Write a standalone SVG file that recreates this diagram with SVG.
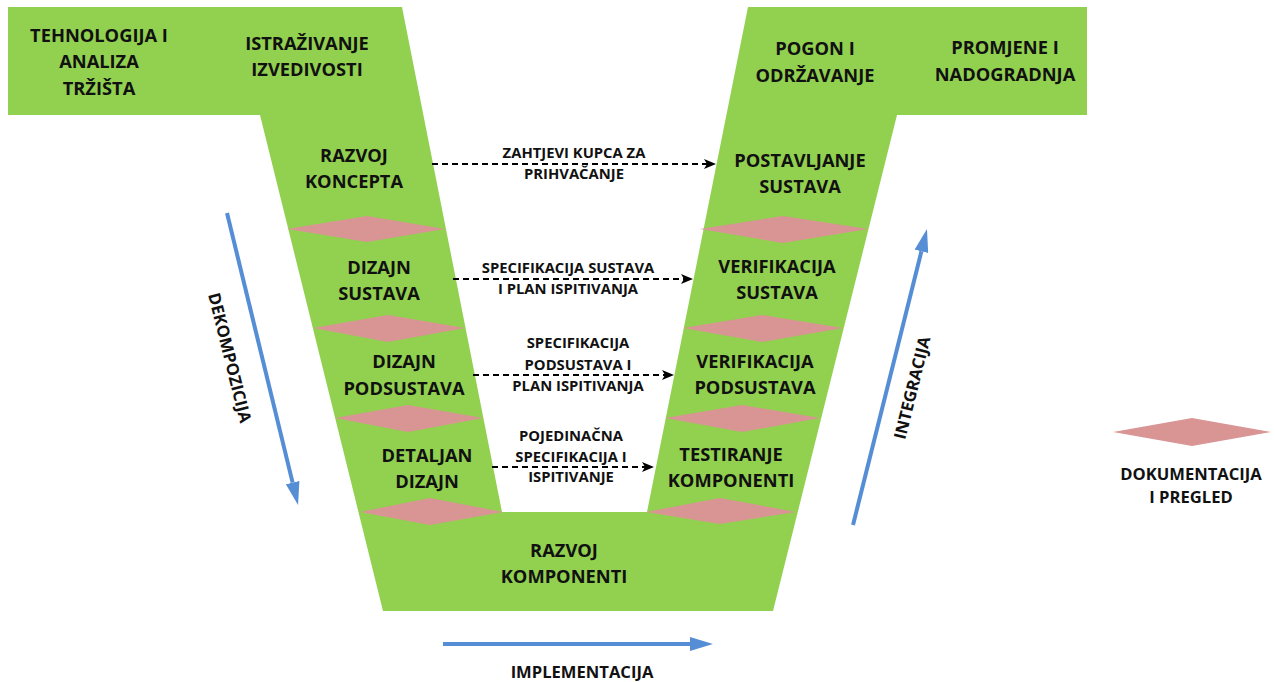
<svg xmlns="http://www.w3.org/2000/svg" width="1275" height="682" viewBox="0 0 1275 682">
<style>
.t{font-family:"Open Sans","Liberation Sans",sans-serif;font-weight:bold;font-size:18.3px;fill:#111;text-anchor:middle}
.s{font-family:"Open Sans","Liberation Sans",sans-serif;font-weight:bold;font-size:14.8px;fill:#111;text-anchor:middle}
.m{font-family:"Open Sans","Liberation Sans",sans-serif;font-weight:bold;font-size:16.6px;fill:#111;text-anchor:middle}
.d{fill:#D99594}
.dash{stroke:#000;stroke-width:2;stroke-dasharray:6 4;fill:none}
.blue{stroke:#558ED5;stroke-width:4;fill:none}
</style>
<defs>
<marker id="ah" markerUnits="userSpaceOnUse" markerWidth="12" markerHeight="12" viewBox="0 0 12 12" refX="9" refY="6" orient="auto">
<path d="M0,1 L12,6 L0,11 L3,6 Z" fill="#000"/>
</marker>
<marker id="bh" markerUnits="userSpaceOnUse" markerWidth="23" markerHeight="14" viewBox="0 0 23 14" refX="0" refY="7" orient="auto">
<path d="M0,0 L23,7 L0,14 Z" fill="#558ED5"/>
</marker>
</defs>
<g id="vshape">
<path d="M8,7 L402,7 L502,512 L647,512 L748,7 L1087,7 L1087,115 L897,115 L773,611 L383,611 L260,115 L8,115 Z" fill="#92D050"/>
</g>
<g id="diamonds">
<polygon class="d" points="287,229 367,216 445,229 367,242"/>
<polygon class="d" points="313,328 388,315 465,328 388,342"/>
<polygon class="d" points="335,418 408,405 483,418 408,432"/>
<polygon class="d" points="360,512 430,498 503,512 430,525"/>
<polygon class="d" points="700,229 783,216 868,229 783,243"/>
<polygon class="d" points="683,328 762,315 843,328 762,342"/>
<polygon class="d" points="665,418 742,405 820,418 742,432"/>
<polygon class="d" points="646,512 720,498 796,512 720,524"/>
</g>
<g id="n-tehnologija"><text class="t" x="99" y="42">TEHNOLOGIJA I</text><text class="t" x="99" y="68">ANALIZA</text><text class="t" x="99" y="95">TRŽIŠTA</text></g>
<g id="n-istrazivanje"><text class="t" x="307" y="50">ISTRAŽIVANJE</text><text class="t" x="307" y="76">IZVEDIVOSTI</text></g>
<g id="n-pogon"><text class="t" x="815" y="55">POGON I</text><text class="t" x="815" y="82">ODRŽAVANJE</text></g>
<g id="n-promjene"><text class="t" x="1005" y="54">PROMJENE I</text><text class="t" x="1005" y="81">NADOGRADNJA</text></g>
<g id="n-razvoj-koncepta"><text class="t" x="354" y="162">RAZVOJ</text><text class="t" x="354" y="188">KONCEPTA</text></g>
<g id="n-postavljanje"><text class="t" x="800" y="167">POSTAVLJANJE</text><text class="t" x="800" y="193">SUSTAVA</text></g>
<g id="n-dizajn-sustava"><text class="t" x="379" y="274">DIZAJN</text><text class="t" x="379" y="300">SUSTAVA</text></g>
<g id="n-verifikacija-sustava"><text class="t" x="777" y="273">VERIFIKACIJA</text><text class="t" x="777" y="299">SUSTAVA</text></g>
<g id="n-dizajn-podsustava"><text class="t" x="404" y="368">DIZAJN</text><text class="t" x="404" y="395">PODSUSTAVA</text></g>
<g id="n-verifikacija-podsustava"><text class="t" x="755" y="368">VERIFIKACIJA</text><text class="t" x="755" y="394">PODSUSTAVA</text></g>
<g id="n-detaljan"><text class="t" x="427" y="462">DETALJAN</text><text class="t" x="427" y="488">DIZAJN</text></g>
<g id="n-testiranje"><text class="t" x="731" y="461">TESTIRANJE</text><text class="t" x="731" y="487">KOMPONENTI</text></g>
<g id="n-razvoj-komponenti"><text class="t" x="564" y="557">RAZVOJ</text><text class="t" x="564" y="583">KOMPONENTI</text></g>
<g id="legend">
<polygon class="d" points="1113,432 1192,418 1271,432 1192,446"/>
<text class="m" x="1191" y="480">DOKUMENTACIJA</text><text class="m" x="1191" y="503">I PREGLED</text>
</g>
<g id="connectors">
<line class="dash" x1="432" y1="164" x2="713" y2="164" marker-end="url(#ah)"/>
<line class="dash" x1="453" y1="279" x2="690" y2="279" marker-end="url(#ah)"/>
<line class="dash" x1="473" y1="375" x2="671" y2="375" marker-end="url(#ah)"/>
<line class="dash" x1="492" y1="467" x2="651" y2="467" marker-end="url(#ah)"/>
<line class="blue" x1="443" y1="644" x2="690" y2="644" marker-end="url(#bh)"/>
<line class="blue" x1="227" y1="213" x2="292.6" y2="482.6" marker-end="url(#bh)"/>
<line class="blue" x1="853" y1="525" x2="921.4" y2="251.3" marker-end="url(#bh)"/>
</g>
<g id="connector-labels">
<text class="s" x="574" y="158">ZAHTJEVI KUPCA ZA</text><text class="s" x="574" y="179">PRIHVAČANJE</text>
<text class="s" x="568" y="273">SPECIFIKACIJA SUSTAVA</text><text class="s" x="568" y="294">I PLAN ISPITIVANJA</text>
<text class="s" x="578" y="348">SPECIFIKACIJA</text><text class="s" x="578" y="370">PODSUSTAVA I</text><text class="s" x="578" y="391">PLAN ISPITIVANJA</text>
<text class="s" x="571" y="441">POJEDINAČNA</text><text class="s" x="571" y="462">SPECIFIKACIJA I</text><text class="s" x="571" y="482">ISPITIVANJE</text>
<text class="m" x="582" y="678">IMPLEMENTACIJA</text>
<text class="m" transform="translate(229,358) rotate(76)" x="0" y="5">DEKOMPOZICIJA</text>
<text class="m" transform="translate(913,388) rotate(-76)" x="0" y="5">INTEGRACIJA</text>
</g>
</svg>
